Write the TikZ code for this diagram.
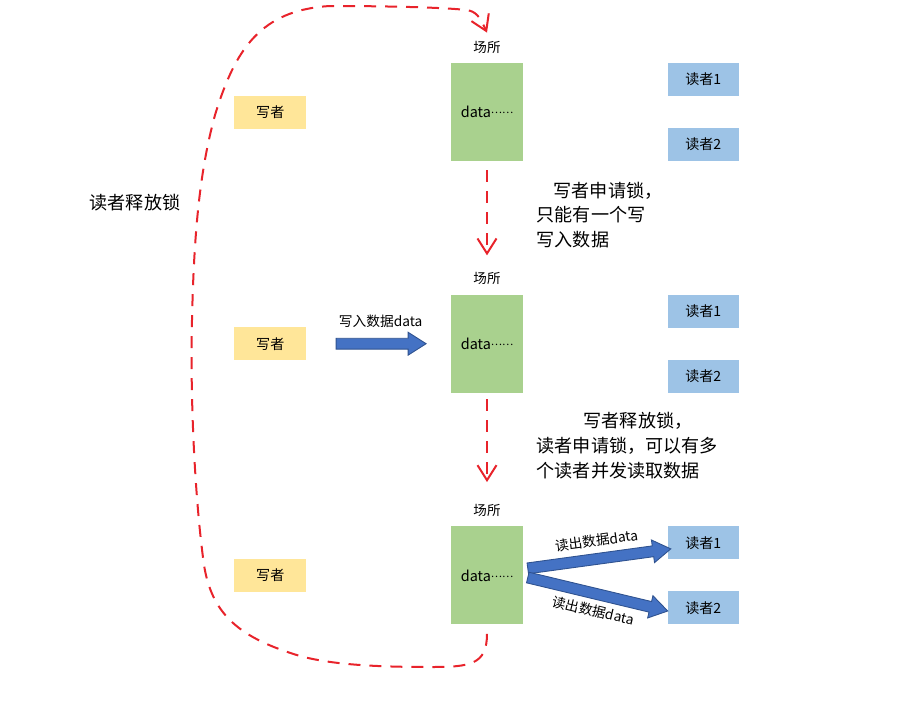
\documentclass[tikz,border=0pt]{standalone}
\usepackage{fontspec}
\setmainfont{Noto Sans CJK SC}
\usepackage{xcolor}
\usepackage{tikz}
\usetikzlibrary{arrows.meta,positioning,calc,shapes.arrows}
\definecolor{writerfill}{HTML}{FFE699}
\definecolor{datafill}{HTML}{A9D18E}
\definecolor{readerfill}{HTML}{9DC3E6}
\definecolor{lockred}{HTML}{E8232B}
\definecolor{bararrow}{HTML}{4472C4}
\definecolor{bararrowline}{HTML}{2F528F}
\newcommand{\datadots}{data{\fontsize{6}{7}\selectfont\raisebox{0.35em}{……}}}
\tikzset{
  writer/.style={fill=writerfill,minimum width=14.4mm,minimum height=6.6mm,inner sep=0pt,font=\fontsize{8}{9.6}\selectfont},
  datablock/.style={fill=datafill,minimum width=14.4mm,minimum height=19.6mm,inner sep=0pt,font=\fontsize{8.2}{9.6}\selectfont},
  reader/.style={fill=readerfill,minimum width=14.2mm,minimum height=6.6mm,inner sep=0pt,font=\fontsize{8}{9.6}\selectfont},
  placelabel/.style={inner sep=0pt,font=\fontsize{7.7}{9}\selectfont},
  note/.style={align=left,inner sep=0pt,anchor=north west,font=\fontsize{10.3}{14.2}\selectfont},
  lockflow/.style={draw=lockred,line width=0.4mm,dash pattern=on 2.4mm off 1.8mm,-{Straight Barb[length=3mm,width=3.8mm]}},
  bigarrow/.style={single arrow,draw=bararrowline,fill=bararrow,line width=0.5pt,inner sep=0pt,inner ysep=1mm,single arrow head extend=1.2mm,single arrow tip angle=65},
  arrowlabel/.style={inner sep=0pt,font=\fontsize{7.8}{9}\selectfont}
}
\begin{document}
\begin{tikzpicture}[x=0.2mm,y=-0.2mm,node distance=26.6mm and 28.8mm]
  \useasboundingbox (0,0) rectangle (915,702);
  \node[datablock] (d1) at (487,112) {\datadots};
  \node[datablock,below=of d1] (d2) {\datadots};
  \node[datablock,below=of d2] (d3) {\datadots};
  \node[writer,left=of d1] (w1) {写者};
  \node[writer,left=of d2] (w2) {写者};
  \node[writer,left=of d3] (w3) {写者};
  \node[placelabel,above=1.8mm of d1] (p1) {场所};
  \node[placelabel,above=1.8mm of d2] (p2) {场所};
  \node[placelabel,above=1.8mm of d3] (p3) {场所};
  \node[reader,below right=0mm and 28.8mm of d1.north east] (r11) {读者1};
  \node[reader,above right=0mm and 28.8mm of d1.south east] (r12) {读者2};
  \node[reader,below right=0mm and 28.8mm of d2.north east] (r21) {读者1};
  \node[reader,above right=0mm and 28.8mm of d2.south east] (r22) {读者2};
  \node[reader,below right=0mm and 28.8mm of d3.north east] (r31) {读者1};
  \node[reader,above right=0mm and 28.8mm of d3.south east] (r32) {读者2};
  \node[note,below right=4mm and 2.6mm of d1.south east] (n1) {\hspace*{3.4mm}写者申请锁，\\只能有一个写\\写入数据};
  \node[note,below right=3.8mm and 2.6mm of d2.south east] (n2) {\hspace*{9.4mm}写者释放锁，\\读者申请锁，可以有多\\个读者并发读取数据};
  \node[note,anchor=center] (n3) at (135,203) {读者释放锁};
  \coordinate (loopend) at ($(p1.north)+(0,-8)$);
  \coordinate (t2) at ($(w2.east)+(29,0)$);
  \coordinate (h2) at ($(d2.west)+(-25,0)$);
  \coordinate (t31) at ($(d3.east)+(4,-7)$);
  \coordinate (h31) at ($(r31.west)+(3,6)$);
  \coordinate (t32) at ($(d3.east)+(4,2)$);
  \coordinate (h32) at ($(r32.west)+(0,3)$);
  \draw[lockflow,shorten <=1.8mm,shorten >=3.4mm] (d1.south)--(p2.north);
  \draw[lockflow,shorten <=1.2mm,shorten >=4.4mm] (d2.south)--(p3.north);
  \draw[lockflow] ($(d3.south)+(0,9)$) .. controls (487,665) and (470,667) .. (430,667)
    .. controls (370,667) and (330,664) .. (300,656)
    .. controls (240,638) and (212,615) .. (204,565)
    .. controls (195,500) and (190,400) .. (192,320)
    .. controls (194,230) and (200,170) .. (215,115)
    .. controls (235,50) and (260,10) .. (330,6)
    .. controls (400,6) and (450,8) .. (466,10)
    .. controls (476,11) and (480,17) .. (loopend);
  \path let \p1=(t2),\p2=(h2),\n1={veclen(\x2-\x1,\y2-\y1)} in (\p1)--(\p2)
    node[bigarrow,pos=0,sloped,anchor=tail,minimum height=\n1] (a2) {}
    node[arrowlabel,midway,above=3.1mm] {写入数据data};
  \path let \p1=(t31),\p2=(h31),\n1={veclen(\x2-\x1,\y2-\y1)} in (\p1)--(\p2)
    node[bigarrow,pos=0,sloped,anchor=tail,minimum height=\n1] (a31) {}
    node[arrowlabel,midway,sloped,above=2.3mm] {读出数据data};
  \path let \p1=(t32),\p2=(h32),\n1={veclen(\x2-\x1,\y2-\y1)} in (\p1)--(\p2)
    node[bigarrow,pos=0,sloped,anchor=tail,minimum height=\n1] (a32) {}
    node[arrowlabel,midway,sloped,below=2.1mm] {读出数据data};
\end{tikzpicture}
\end{document}
